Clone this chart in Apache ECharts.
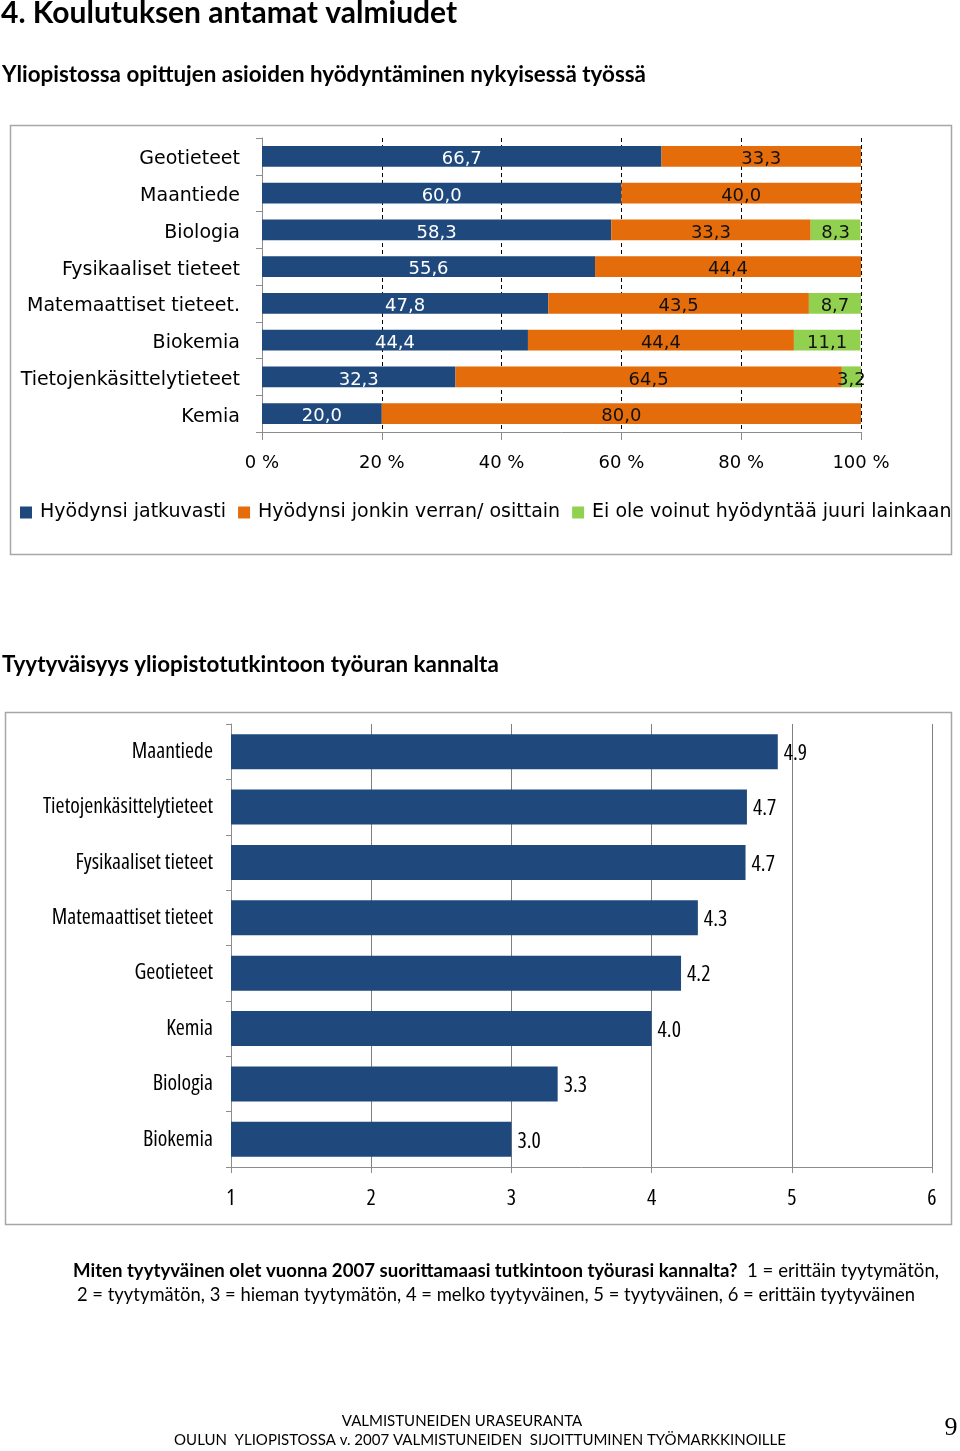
<!DOCTYPE html>
<html>
<head>
<meta charset="utf-8">
<script src="https://cdn.jsdelivr.net/npm/echarts@6/dist/echarts.min.js"></script>
<style>
html,body{margin:0;padding:0;background:#fff;}
#main{width:960px;height:1451px;}
</style>
</head>
<body>
<div id="main"></div>
<script>
// ---- Data ----
const cats1 = ['Geotieteet','Maantiede','Biologia','Fysikaaliset tieteet','Matemaattiset tieteet.','Biokemia','Tietojenkäsittelytieteet','Kemia'];
const seriesNames1 = ['Hyödynsi jatkuvasti','Hyödynsi jonkin verran/ osittain','Ei ole voinut hyödyntää juuri lainkaan'];
const jatkuvasti = [66.7,60.0,58.3,55.6,47.8,44.4,32.3,20.0];
const osittain   = [33.3,40.0,33.3,44.4,43.5,44.4,64.5,80.0];
const eiLainkaan = [0,0,8.3,0,8.7,11.1,3.2,0];
const pctTicks = [0,20,40,60,80,100];

const cats2 = ['Maantiede','Tietojenkäsittelytieteet','Fysikaaliset tieteet','Matemaattiset tieteet','Geotieteet','Kemia','Biologia','Biokemia'];
const tyytyvaisyys = [4.90,4.68,4.67,4.33,4.21,4.00,3.33,3.00];
const scaleTicks = [1,2,3,4,5,6];

// ---- Styles ----
const BLUE='#1F497D', ORANGE='#E46C0A', GREEN='#92D050';
const WIDE="'DejaVu Sans', Verdana, sans-serif";
const NARROW="'Open Sans', sans-serif";
const NARROW_SIZE=21.8;
const HEAD="Lato, 'Open Sans', sans-serif";

const fmtComma = p => p.value ? Number(p.value).toFixed(1).replace('.', ',') : '';

const chart = echarts.init(document.getElementById('main'), null, {renderer:'canvas'});

function txt(x,y,text,opts){
  return Object.assign({type:'text', x:x, y:y, silent:true,
    style:Object.assign({text:text, fill:'#000', textVerticalAlign:'middle'}, opts||{})});
}

const option = {
  animation:false,
  backgroundColor:'#fff',
  legend:{
    data:seriesNames1, left:20, top:503, padding:0, itemWidth:12, itemHeight:12, itemGap:12, icon:'rect',
    textStyle:{fontFamily:WIDE, fontSize:19, color:'#000', padding:[0,0,0,3]}
  },
  grid:[
    {left:262, top:138, width:599, height:294, containLabel:false, outerBoundsMode:'none'},
    {left:231, top:724, width:701, height:443, containLabel:false, outerBoundsMode:'none'}
  ],
  xAxis:[
    {gridIndex:0, type:'value', min:pctTicks[0], max:pctTicks[pctTicks.length-1], interval:20,
     axisLine:{show:true, lineStyle:{color:'#8c8c8c', width:1}},
     axisTick:{show:true, length:8, lineStyle:{color:'#8c8c8c'}},
     axisLabel:{formatter:'{value} %', fontFamily:WIDE, fontSize:18, color:'#000', margin:22},
     splitLine:{show:true, lineStyle:{color:'#000', type:[4,3], width:1}}},
    {gridIndex:1, type:'value', min:scaleTicks[0], max:scaleTicks[scaleTicks.length-1], interval:1,
     axisLine:{show:true, lineStyle:{color:'#8c8c8c', width:1}},
     axisTick:{show:true, length:6, lineStyle:{color:'#8c8c8c'}},
     axisLabel:{fontFamily:NARROW, fontStyle:'condensed', fontSize:NARROW_SIZE, color:'#000', margin:21},
     splitLine:{show:true, lineStyle:{color:'#7f7f7f', width:1}}}
  ],
  yAxis:[
    {gridIndex:0, type:'category', data:cats1, inverse:true,
     axisLine:{show:true, lineStyle:{color:'#8c8c8c'}},
     axisTick:{show:true, length:6, lineStyle:{color:'#8c8c8c'}},
     axisLabel:{formatter:'{c|{value}}', margin:22,
       rich:{c:{fontFamily:WIDE, fontSize:19, color:'#000', padding:[6,0,0,0]}}}},
    {gridIndex:1, type:'category', data:cats2, inverse:true,
     axisLine:{show:true, lineStyle:{color:'#8c8c8c'}},
     axisTick:{show:true, length:5, lineStyle:{color:'#8c8c8c'}},
     axisLabel:{fontFamily:NARROW, fontStyle:'condensed', fontSize:NARROW_SIZE, color:'#000', margin:18}}
  ],
  series:[
    {name:seriesNames1[0], type:'bar', stack:'a', xAxisIndex:0, yAxisIndex:0, barWidth:'57%',
     data:jatkuvasti, itemStyle:{color:BLUE},
     label:{show:true, position:'inside', formatter:fmtComma, color:'#fff', fontFamily:WIDE, fontSize:18, offset:[0,3]}},
    {name:seriesNames1[1], type:'bar', stack:'a', xAxisIndex:0, yAxisIndex:0, barWidth:'57%',
     data:osittain, itemStyle:{color:ORANGE},
     label:{show:true, position:'inside', formatter:fmtComma, color:'#111', fontFamily:WIDE, fontSize:18, offset:[0,3]}},
    {name:seriesNames1[2], type:'bar', stack:'a', xAxisIndex:0, yAxisIndex:0, barWidth:'57%',
     data:eiLainkaan, itemStyle:{color:GREEN},
     label:{show:true, position:'inside', formatter:fmtComma, color:'#111', fontFamily:WIDE, fontSize:18, offset:[0,3]}},
    {name:'Tyytyväisyys', type:'bar', xAxisIndex:1, yAxisIndex:1, barWidth:'63%',
     data:tyytyvaisyys, itemStyle:{color:BLUE},
     label:{show:true, position:'right', distance:6, offset:[0,2], formatter:p=>Number(p.value).toFixed(1), color:'#000', fontFamily:NARROW, fontStyle:'condensed', fontSize:NARROW_SIZE}}
  ],
  graphic:[
    {type:'rect', shape:{x:10.5, y:125.5, width:941, height:429}, silent:true, z:-10,
     style:{fill:'none', stroke:'#a6a6a6', lineWidth:1.5}},
    {type:'rect', shape:{x:5.5, y:712.5, width:946, height:512}, silent:true, z:-10,
     style:{fill:'none', stroke:'#a6a6a6', lineWidth:1.5}},
    txt(1,13,'4. Koulutuksen antamat valmiudet',{font:"bold 30px "+HEAD}),
    txt(2,75,'Yliopistossa opittujen asioiden hyödyntäminen nykyisessä työssä',{font:"bold 22.4px "+HEAD}),
    txt(2,665,'Tyytyväisyys yliopistotutkintoon työuran kannalta',{font:"bold 22.4px "+HEAD}),
    {type:'text', x:73, y:1271, silent:true, style:{
      text:'{b|Miten tyytyväinen olet vuonna 2007 suorittamaasi tutkintoon työurasi kannalta?}  1 = erittäin tyytymätön,',
      font:"18.6px "+HEAD, fill:'#000', textVerticalAlign:'middle',
      rich:{b:{fontWeight:'bold', fontFamily:HEAD, fontSize:18.6}}}},
    txt(77,1295,'2 = tyytymätön, 3 = hieman tyytymätön, 4 = melko tyytyväinen, 5 = tyytyväinen, 6 = erittäin tyytyväinen',{font:"18.4px "+HEAD}),
    txt(462,1421,'VALMISTUNEIDEN URASEURANTA',{font:"15px "+HEAD, textAlign:'center'}),
    txt(480,1440,'OULUN  YLIOPISTOSSA v. 2007 VALMISTUNEIDEN  SIJOITTUMINEN TYÖMARKKINOILLE',{font:"15px "+HEAD, textAlign:'center'}),
    txt(951,1428,'9',{font:"26px 'Liberation Serif', serif", textAlign:'center'})
  ]
};
chart.setOption(option);
</script>
</body>
</html>
